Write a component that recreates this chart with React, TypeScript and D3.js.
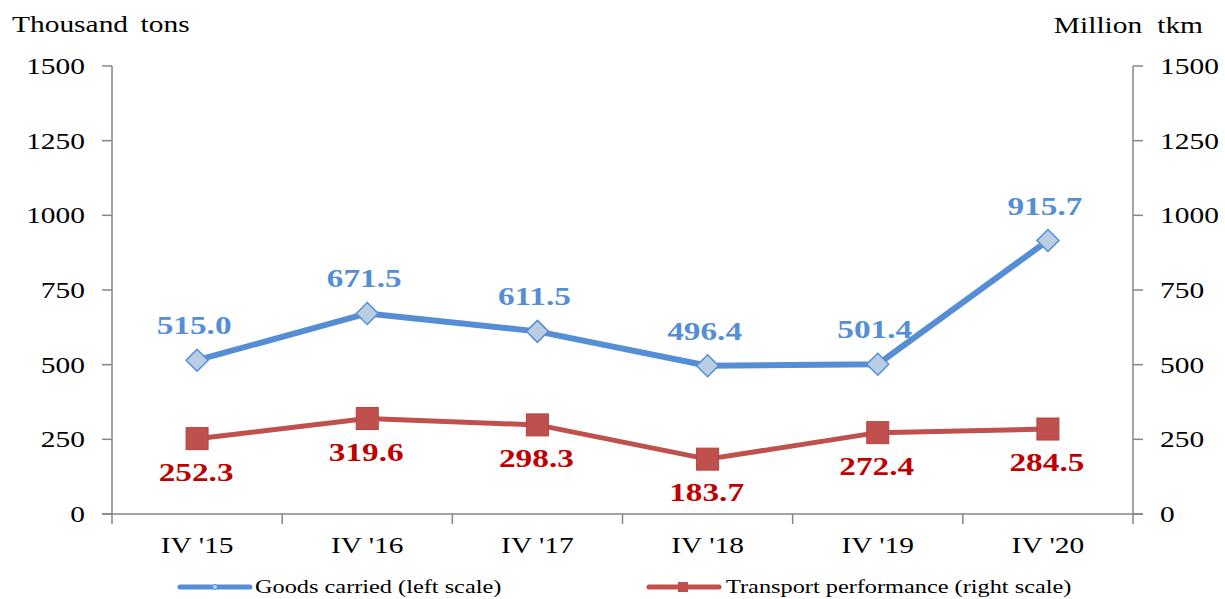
import React, { useEffect, useRef } from "react";
import * as d3 from "d3";

const categories = ["IV '15", "IV '16", "IV '17", "IV '18", "IV '19", "IV '20"];
const goodsCarried = [515.0, 671.5, 611.5, 496.4, 501.4, 915.7];
const transportPerf = [252.3, 319.6, 298.3, 183.7, 272.4, 284.5];
const tickValues = [0, 250, 500, 750, 1000, 1250, 1500];

const W = 1225;
const H = 599;
const SX = 1.28; // the reference text is stretched horizontally
const FONT = "'Liberation Serif', 'Times New Roman', serif";

const App = () => {
  const ref = useRef<SVGSVGElement>(null);

  useEffect(() => {
    const svg = d3.select(ref.current);
    svg.selectAll("*").remove();

    const left = 112;
    const right = 1133;
    const top = 66;
    const bottom = 514;

    const x = d3.scaleBand().domain(categories).range([left, right]);
    const yL = d3.scaleLinear().domain([0, 1500]).range([bottom, top]);
    const yR = d3.scaleLinear().domain([0, 1500]).range([bottom, top]);

    const text = (
      g: any,
      tx: number,
      ty: number,
      s: string,
      size: number,
      anchor: string,
      fill = "#000",
      weight = "normal"
    ) =>
      g
        .append("text")
        .attr("transform", `translate(${tx},${ty}) scale(${SX},1)`)
        .attr("text-anchor", anchor)
        .attr("font-family", FONT)
        .attr("font-size", size)
        .attr("font-weight", weight)
        .attr("fill", fill)
        .text(s);

    const axisColor = "#868686";

    // left axis
    const gl = svg.append("g");
    gl.append("line")
      .attr("x1", left).attr("x2", left)
      .attr("y1", top).attr("y2", bottom)
      .attr("stroke", axisColor).attr("stroke-width", 1.5);
    tickValues.forEach((v) => {
      gl.append("line")
        .attr("x1", left - 10).attr("x2", left)
        .attr("y1", yL(v)).attr("y2", yL(v))
        .attr("stroke", axisColor).attr("stroke-width", 1.5);
      text(gl, 85, yL(v) + 8, String(v), 23, "end");
    });

    // right axis
    const gr = svg.append("g");
    gr.append("line")
      .attr("x1", right).attr("x2", right)
      .attr("y1", top).attr("y2", bottom)
      .attr("stroke", axisColor).attr("stroke-width", 1.5);
    tickValues.forEach((v) => {
      gr.append("line")
        .attr("x1", right).attr("x2", right + 10)
        .attr("y1", yR(v)).attr("y2", yR(v))
        .attr("stroke", axisColor).attr("stroke-width", 1.5);
      text(gr, 1160, yR(v) + 8, String(v), 23, "start");
    });

    // x axis
    const gx = svg.append("g");
    gx.append("line")
      .attr("x1", left - 10).attr("x2", right + 10)
      .attr("y1", bottom).attr("y2", bottom)
      .attr("stroke", axisColor).attr("stroke-width", 1.5);
    const bounds = categories.map((c) => x(c)!).concat([right]);
    bounds.forEach((b) => {
      gx.append("line")
        .attr("x1", b).attr("x2", b)
        .attr("y1", bottom).attr("y2", bottom + 10)
        .attr("stroke", axisColor).attr("stroke-width", 1.5);
    });
    categories.forEach((c) => {
      text(gx, x(c)! + x.bandwidth() / 2, 553, c, 23, "middle");
    });

    // axis titles
    text(svg, 12, 32, "Thousand tons", 23, "start").attr("word-spacing", 4);
    text(svg, 1203, 33, "Million tkm", 23, "end").attr("word-spacing", 6);

    const cx = (i: number) => x(categories[i])! + x.bandwidth() / 2;

    // goods carried
    const blue = "#558ED5";
    const lineL = d3.line<number>().x((_, i) => cx(i)).y((d) => yL(d));
    svg.append("path")
      .datum(goodsCarried)
      .attr("d", lineL)
      .attr("fill", "none")
      .attr("stroke", blue)
      .attr("stroke-width", 6)
      .attr("stroke-linejoin", "round");
    goodsCarried.forEach((v, i) => {
      const s = 11;
      svg.append("path")
        .attr("d", `M${cx(i)},${yL(v) - s}L${cx(i) + s},${yL(v)}L${cx(i)},${yL(v) + s}L${cx(i) - s},${yL(v)}Z`)
        .attr("fill", "#B9CDE5")
        .attr("stroke", blue)
        .attr("stroke-width", 1.5);
      text(svg, cx(i) - 3, yL(v) - 26, v.toFixed(1), 26, "middle", blue, "bold");
    });

    // transport performance
    const red = "#C0504D";
    const lineR = d3.line<number>().x((_, i) => cx(i)).y((d) => yR(d));
    svg.append("path")
      .datum(transportPerf)
      .attr("d", lineR)
      .attr("fill", "none")
      .attr("stroke", red)
      .attr("stroke-width", 5)
      .attr("stroke-linejoin", "round");
    transportPerf.forEach((v, i) => {
      const s = 11;
      svg.append("rect")
        .attr("x", cx(i) - s).attr("y", yR(v) - s)
        .attr("width", 2 * s).attr("height", 2 * s)
        .attr("fill", red)
        .attr("stroke", "#B7413E")
        .attr("stroke-width", 1);
      text(svg, cx(i) - 1, yR(v) + 42, v.toFixed(1), 26, "middle", "#C00000", "bold");
    });

    // legend
    const ly = 587;
    svg.append("line")
      .attr("x1", 180).attr("x2", 250).attr("y1", ly).attr("y2", ly)
      .attr("stroke", blue).attr("stroke-width", 5).attr("stroke-linecap", "round");
    svg.append("path")
      .attr("d", `M215,${ly - 3}L218,${ly}L215,${ly + 3}L212,${ly}Z`)
      .attr("fill", "#B9CDE5").attr("stroke", blue).attr("stroke-width", 1);
    text(svg, 255, ly + 6, "Goods carried (left scale)", 19, "start");

    svg.append("line")
      .attr("x1", 649).attr("x2", 719).attr("y1", ly).attr("y2", ly)
      .attr("stroke", red).attr("stroke-width", 5).attr("stroke-linecap", "round");
    svg.append("rect")
      .attr("x", 678).attr("y", ly - 5).attr("width", 10).attr("height", 10)
      .attr("fill", red);
    text(svg, 726, ly + 6, "Transport performance (right scale)", 19, "start");
  }, []);

  return (
    <svg
      ref={ref}
      width={W}
      height={H}
      style={{ position: "absolute", left: 0, top: 0, background: "#fff" }}
    />
  );
};

export default App;
